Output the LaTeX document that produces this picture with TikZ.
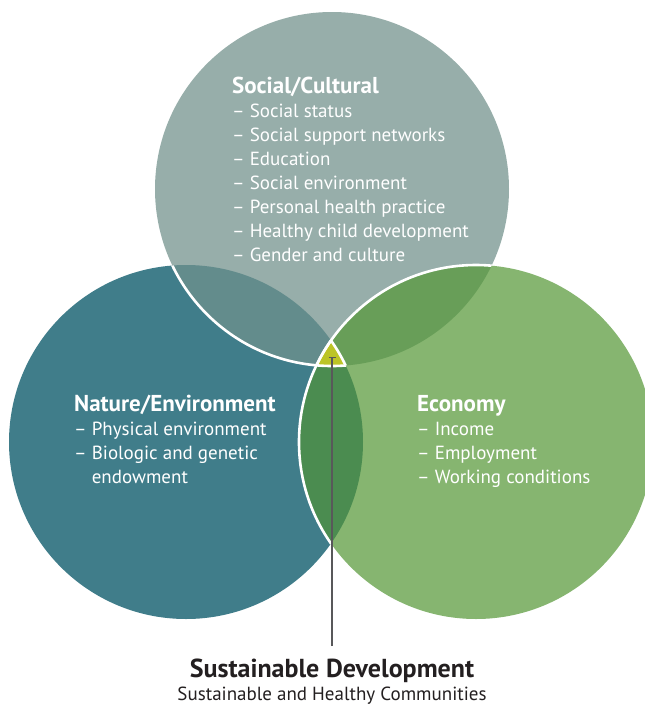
\documentclass[tikz,border=0pt]{standalone}
\usepackage{fontspec}
\setmainfont{PT Sans}
\usetikzlibrary{arrows.meta}

\definecolor{natcol}{HTML}{407D8A}
\definecolor{soccol}{HTML}{97AEAA}
\definecolor{ecocol}{HTML}{86B570}
\definecolor{socnat}{HTML}{638C8C}
\definecolor{soceco}{HTML}{689E58}
\definecolor{nateco}{HTML}{4B8C50}
\definecolor{corecol}{HTML}{BCC426}
\definecolor{inkcol}{HTML}{231F20}
\definecolor{stemcol}{HTML}{58585A}

\newcommand{\circtitle}[1]{{\fontsize{23}{24}\selectfont\textbf{\vphantom{/}#1}}}

\tikzset{
  circtext/.style={text=white, anchor=north west, align=left, inner sep=0pt,
    font=\fontsize{19}{24}\selectfont},
  whiteedge/.style={white, line width=2.6pt},
  stem/.style={stemcol, line width=1.4pt, -{Bar[width=7pt, line width=1.4pt]}}
}

\begin{document}
\begin{tikzpicture}[x=1pt, y=-1pt]
  \useasboundingbox (0,0) rectangle (645,705);
  \def\rad{177}
  \coordinate (soc) at (332,189);
  \coordinate (nat) at (186,442);
  \coordinate (eco) at (476,442);

  \begin{scope}
    \clip (0,0) rectangle (645,705);
    % Circles
    \fill[natcol] (nat) circle (\rad);
    \fill[soccol] (soc) circle (\rad);
    \fill[ecocol] (eco) circle (\rad);
    % Overlaps
    \begin{scope}\clip (soc) circle (\rad); \fill[socnat] (nat) circle (\rad); \end{scope}
    \begin{scope}\clip (soc) circle (\rad); \fill[soceco] (eco) circle (\rad); \end{scope}
    \begin{scope}\clip (eco) circle (\rad); \fill[nateco] (nat) circle (\rad); \end{scope}
    \begin{scope}\clip (soc) circle (\rad); \clip (eco) circle (\rad); \fill[corecol] (nat) circle (\rad); \end{scope}
    % White edges
    \begin{scope}\clip (nat) circle (\rad); \draw[whiteedge] (soc) circle (\rad); \end{scope}
    \begin{scope}\clip (soc) circle (\rad); \draw[whiteedge] (eco) circle (\rad); \end{scope}
    \begin{scope}\clip (nat) circle (\rad); \draw[whiteedge] (eco) circle (\rad); \end{scope}
    \begin{scope}\clip (soc) circle (\rad); \clip (eco) circle (\rad); \draw[whiteedge] (nat) circle (\rad); \end{scope}
  \end{scope}

  % Texts
  \node[circtext] (soctext) at (232,77) {\circtitle{Social/Cultural}\\
    – Social status\\
    – Social support networks\\
    – Education\\
    – Social environment\\
    – Personal health practice\\
    – Healthy child development\\
    – Gender and culture};
  \node[circtext] (nattext) at (74,395) {\circtitle{Nature/Environment}\\
    – Physical environment\\
    – Biologic and genetic\\
    \phantom{– }endowment};
  \node[circtext] (ecotext) at (417,395) {\circtitle{Economy}\\
    – Income\\
    – Employment\\
    – Working conditions};

  \coordinate (core) at (332,357);
  \node[inkcol, inner sep=0pt, anchor=base, font=\fontsize{26}{26}\selectfont\bfseries]
    (sd) at (332,677) {Sustainable Development};
  \node[inkcol, inner sep=0pt, anchor=base, font=\fontsize{19}{19}\selectfont]
    (sdsub) at (332,700) {Sustainable and Healthy Communities};
  \draw[stem, shorten <=12pt] (sd) -- (core);
\end{tikzpicture}
\end{document}
